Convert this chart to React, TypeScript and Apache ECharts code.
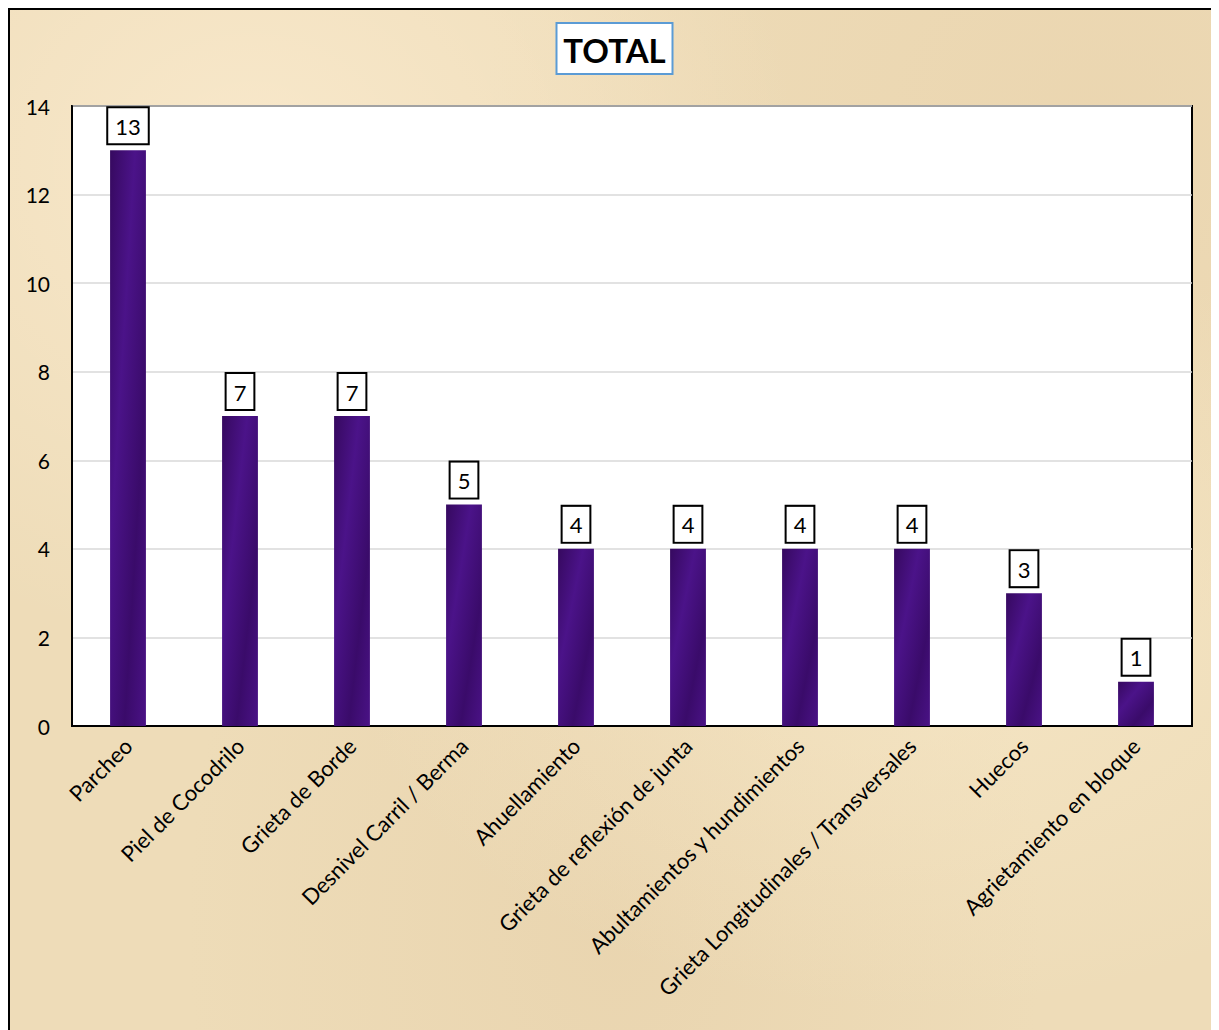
import React, { useEffect, useRef } from "react";
import * as echarts from "echarts";

const categories = [
  "Parcheo",
  "Piel de Cocodrilo",
  "Grieta de Borde",
  "Desnivel Carril / Berma",
  "Ahuellamiento",
  "Grieta de reflexión de junta",
  "Abultamientos y hundimientos",
  "Grieta Longitudinales / Transversales",
  "Huecos",
  "Agrietamiento en bloque",
];
const totals = [13, 7, 7, 5, 4, 4, 4, 4, 3, 1];
const yTicks = { min: 0, max: 14, interval: 2 };
const titleText = "TOTAL";

const FONT = "Lato, 'Open Sans', sans-serif";

export default function App() {
  const ref = useRef<HTMLDivElement>(null);
  useEffect(() => {
    document.documentElement.style.overflow = "hidden";
    document.body.style.overflow = "hidden";
    if (!ref.current) return;
    const chart = echarts.init(ref.current, undefined, { renderer: "svg" });
    chart.setOption({
      animation: false,
      backgroundColor: "transparent",
      title: {
        text: titleText,
        left: "center",
        top: 13,
        backgroundColor: "#ffffff",
        borderColor: "#5b9bd5",
        borderWidth: 2,
        padding: [8, 7, 5, 7],
        textStyle: {
          fontFamily: FONT,
          fontSize: 33,
          fontWeight: "bold",
          color: "#000",
          lineHeight: 38,
        },
      },
      grid: {
        left: 62,
        top: 96,
        right: 27,
        bottom: 304,
        show: true,
        backgroundColor: "#ffffff",
        borderColor: "#000",
        borderWidth: 2,
      },
      xAxis: {
        type: "category",
        data: categories,
        axisLine: { show: true, lineStyle: { color: "#000", width: 2 } },
        axisTick: { show: false },
        axisLabel: {
          rotate: 45,
          interval: 0,
          margin: 16,
          fontFamily: FONT,
          fontSize: 22,
          color: "#000",
        },
      },
      yAxis: {
        type: "value",
        min: yTicks.min,
        max: yTicks.max,
        interval: yTicks.interval,
        axisLine: { show: true, lineStyle: { color: "#000", width: 2 } },
        axisTick: { show: false },
        splitLine: { show: true, lineStyle: { color: "#d9d9d9", width: 1.5 } },
        axisLabel: {
          margin: 22,
          fontFamily: FONT,
          fontSize: 21,
          color: "#000",
        },
      },
      series: [
        {
          type: "bar",
          data: totals,
          barWidth: "32%",
          itemStyle: {
            color: {
              type: "linear",
              x: 0,
              y: 0,
              x2: 1,
              y2: 1,
              colorStops: [
                { offset: 0, color: "#36095f" },
                { offset: 0.35, color: "#4b1389" },
                { offset: 0.7, color: "#3a0b6a" },
                { offset: 1, color: "#4a1286" },
              ],
            },
          },
          label: {
            show: true,
            position: "top",
            distance: 7,
            formatter: "{c}",
            fontFamily: FONT,
            fontSize: 22,
            color: "#000",
            lineHeight: 24,
            backgroundColor: "#ffffff",
            borderColor: "#000",
            borderWidth: 2,
            padding: [6, 7, 5, 7],
          },
        },
      ],
    });
    return () => chart.dispose();
  }, []);

  return (
    <div
      style={{
        width: 1211,
        height: 1022,
        boxSizing: "border-box",
        borderLeft: "2px solid #000",
        borderTop: "2px solid #000",
        backgroundColor: "#eedcb8",
        backgroundImage:
          "radial-gradient(ellipse at 20% 15%, rgba(255,240,215,0.6), rgba(255,240,215,0) 40%)," +
          "radial-gradient(ellipse at 75% 60%, rgba(250,236,205,0.55), rgba(250,236,205,0) 45%)," +
          "radial-gradient(ellipse at 50% 90%, rgba(225,200,160,0.35), rgba(225,200,160,0) 50%)," +
          "radial-gradient(ellipse at 90% 10%, rgba(230,205,165,0.4), rgba(230,205,165,0) 40%)",
        overflow: "hidden",
      }}
    >
      <div ref={ref} style={{ width: 1209, height: 1020 }} />
    </div>
  );
}
